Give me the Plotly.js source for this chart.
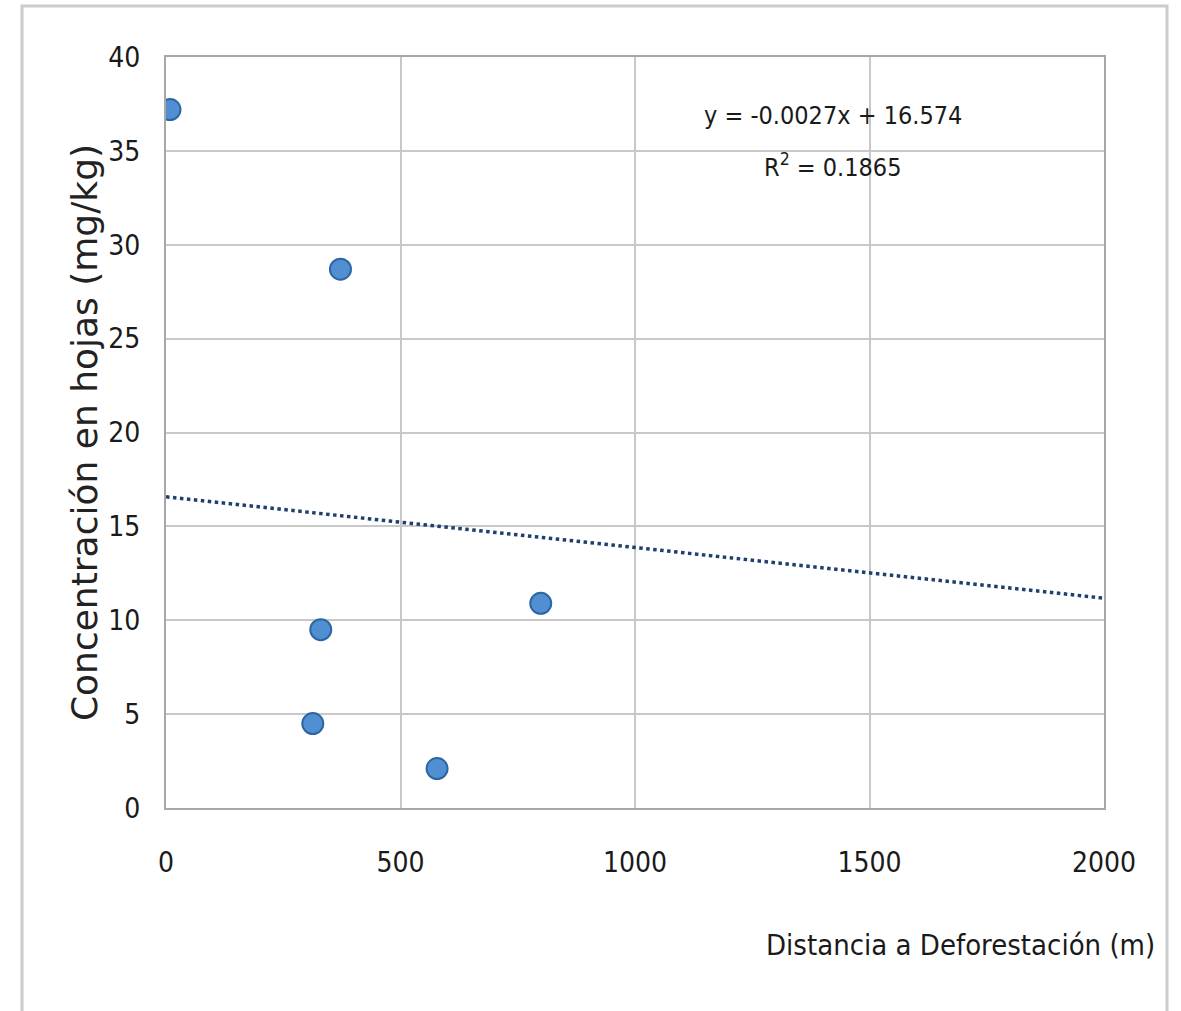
<!DOCTYPE html>
<html><head><meta charset="utf-8">
<script src="https://cdn.plot.ly/plotly-3.0.1.min.js"></script>
<style>html,body{margin:0;padding:0;background:#fff}#chart{width:1181px;height:1011px}</style>
</head><body><div id="chart"></div>
<script>
const distance = [8.5, 372, 330, 313, 578, 799];
const concentration = [37.2, 28.7, 9.5, 4.5, 2.1, 10.9];
const trendSlope = -0.0027;
const trendIntercept = 16.574;
const trendX = [0, 2000];
const trendY = trendX.map(x => trendSlope * x + trendIntercept);
const xTicks = [0, 500, 1000, 1500, 2000];
const yTicks = [0, 5, 10, 15, 20, 25, 30, 35, 40];

const narrow = '"DejaVu Sans Condensed", "Liberation Sans Narrow", "Liberation Sans", sans-serif';

const traces = [
  {x: trendX, y: trendY, mode: 'lines', line: {color: '#1f3f6e', width: 3.5, dash: 'dot'}, hoverinfo: 'skip'},
  {x: distance, y: concentration, mode: 'markers',
   marker: {symbol: 'circle', size: 21, color: '#4f8fd2', line: {color: '#2d67a3', width: 2}}}
];

const layout = {
  width: 1181, height: 1011,
  margin: {l: 166, r: 77, t: 57, b: 203},
  paper_bgcolor: '#ffffff', plot_bgcolor: '#ffffff',
  showlegend: false,
  font: {family: narrow, color: '#1a1a1a', size: 28},
  xaxis: {
    range: [0, 2000], tickvals: xTicks, ticktext: xTicks.map(String),
    showgrid: true, gridcolor: '#c8c8c8', gridwidth: 2,
    zeroline: false, showline: true, linecolor: '#a8a8a8', linewidth: 2, mirror: true,
    ticks: '', ticklabelstandoff: 28,
    tickfont: {family: narrow, size: 28, color: '#1a1a1a'}
  },
  yaxis: {
    range: [0, 40], tickvals: yTicks, ticktext: yTicks.map(String),
    showgrid: true, gridcolor: '#c8c8c8', gridwidth: 2,
    zeroline: false, showline: true, linecolor: '#a8a8a8', linewidth: 2, mirror: true,
    ticks: '', ticklabelstandoff: 18,
    tickfont: {family: narrow, size: 28, color: '#1a1a1a'},
    title: {text: 'Concentración en hojas (mg/kg)', standoff: 0,
            font: {family: '"DejaVu Sans", Verdana, sans-serif', size: 36, color: '#222'}}
  },
  annotations: [
    {xref: 'paper', yref: 'paper', x: 1.0565, y: -0.182, xanchor: 'right', yanchor: 'middle',
     text: 'Distancia a Deforestación (m)', showarrow: false,
     font: {family: narrow, size: 29, color: '#1a1a1a'}},
    {xref: 'paper', yref: 'paper', x: 0.711, y: 0.922, xanchor: 'center', yanchor: 'middle',
     text: 'y = -0.0027x + 16.574', showarrow: false,
     font: {family: narrow, size: 25, color: '#1a1a1a'}},
    {xref: 'paper', yref: 'paper', x: 0.711, y: 0.855, xanchor: 'center', yanchor: 'middle',
     text: 'R<sup>2</sup> = 0.1865', showarrow: false,
     font: {family: narrow, size: 25, color: '#1a1a1a'}}
  ],
  shapes: [
    {type: 'rect', xref: 'paper', yref: 'paper', x0: -0.1535, x1: 1.0672, y0: -0.4, y1: 1.0679,
     line: {color: '#cccccc', width: 3}, fillcolor: 'rgba(0,0,0,0)', layer: 'below'}
  ]
};

Plotly.newPlot('chart', traces, layout, {staticPlot: true, displayModeBar: false});
</script></body></html>
